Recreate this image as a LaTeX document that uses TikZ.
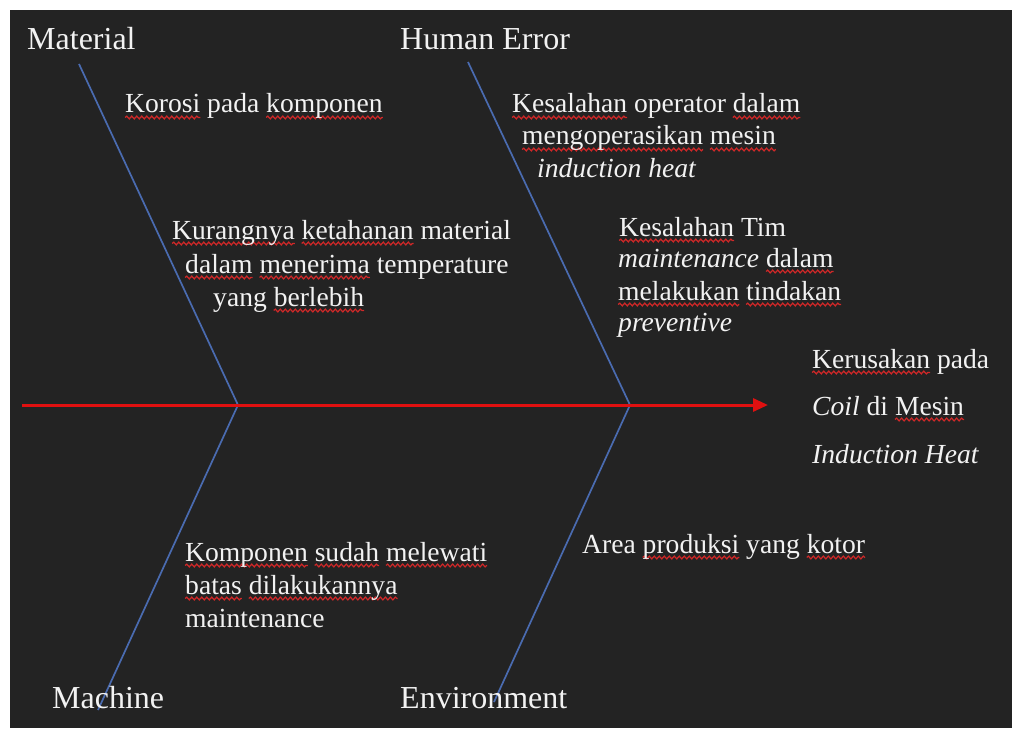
\documentclass[tikz,border=0pt]{standalone}
\usepackage{fontspec}
\setmainfont{Liberation Serif}
\usetikzlibrary{arrows.meta,decorations.pathmorphing}
\definecolor{bg}{HTML}{232323}
\definecolor{fg}{HTML}{F2F2F2}
\definecolor{bone}{HTML}{4A6BB0}
\definecolor{spine}{HTML}{E01010}
\definecolor{wavecol}{HTML}{D02828}
\newlength\sqw
\newcommand\sq[1]{\settowidth{\sqw}{#1}\tikz[overlay,baseline=0pt]{\draw[wavecol,line width=1.2pt,decorate,decoration={snake,amplitude=1.4pt,segment length=5pt}] (0pt,-4.5pt) -- (\sqw,-4.5pt);}#1}
\tikzset{
  head/.style={font=\fontsize{32}{38}\selectfont, text=fg, anchor=base west, inner sep=0pt},
  body/.style={font=\fontsize{27.6}{33}\selectfont, text=fg, anchor=base west, inner sep=0pt},
  boneline/.style={draw=bone, line width=1.7pt},
  spineline/.style={draw=spine, line width=3pt, -{Triangle[length=15pt,width=13pt]}}
}
\begin{document}
\begin{tikzpicture}[x=1pt,y=-1pt]
\useasboundingbox (0,0) rectangle (1012,733);
\fill[white] (0,0) rectangle (1012,733);
\fill[bg] (10,10) rectangle (1012,728);
% coordinates
\coordinate (mtop) at (79,64);
\coordinate (jm) at (238,405);
\coordinate (mbot) at (98,710);
\coordinate (htop) at (468,62);
\coordinate (je) at (630,405);
\coordinate (ebot) at (494,702);
\coordinate (s0) at (22,405);
\coordinate (tip) at (768,405);
% bones
\draw[boneline] (mtop) -- (jm) -- (mbot);
\draw[boneline] (htop) -- (je) -- (ebot);
\draw[spineline] (s0) -- (tip);
% headings
\node[head] (material) at (27,50) {Material};
\node[head] (human) at (400,50) {Human Error};
\node[head] (machine) at (52,708) {Machine};
\node[head] (env) at (400,708) {Environment};
% material causes
\node[body] (m1) at (125,113) {\sq{Korosi} pada \sq{komponen}};
\node[body] (m2a) at (172,239) {\sq{Kurangnya} \sq{ketahanan} material};
\node[body] (m2b) at (185,273) {\sq{dalam} \sq{menerima} temperature};
\node[body] (m2c) at (213,306) {yang \sq{berlebih}};
% human error causes
\node[body] (h1a) at (512,113) {\sq{Kesalahan} operator \sq{dalam}};
\node[body] (h1b) at (522,145) {\sq{mengoperasikan} \sq{mesin}};
\node[body] (h1c) at (537,177) {\textit{induction heat}};
\node[body] (h2a) at (619,236) {\sq{Kesalahan} Tim};
\node[body] (h2b) at (618,267) {\textit{maintenance} \sq{dalam}};
\node[body] (h2c) at (618,300) {\sq{melakukan} \sq{tindakan}};
\node[body] (h2d) at (618,331) {\textit{preventive}};
% effect
\node[body] (e1a) at (812,368) {\sq{Kerusakan} pada};
\node[body] (e1b) at (812,415) {\textit{Coil} di \sq{Mesin}};
\node[body] (e1c) at (812,463) {\textit{Induction Heat}};
% machine causes
\node[body] (c1a) at (185,561) {\sq{Komponen} \sq{sudah} \sq{melewati}};
\node[body] (c1b) at (185,594) {\sq{batas} \sq{dilakukannya}};
\node[body] (c1c) at (185,627) {maintenance};
% environment causes
\node[body] (v1) at (582,553) {Area \sq{produksi} yang \sq{kotor}};
\end{tikzpicture}
\end{document}
